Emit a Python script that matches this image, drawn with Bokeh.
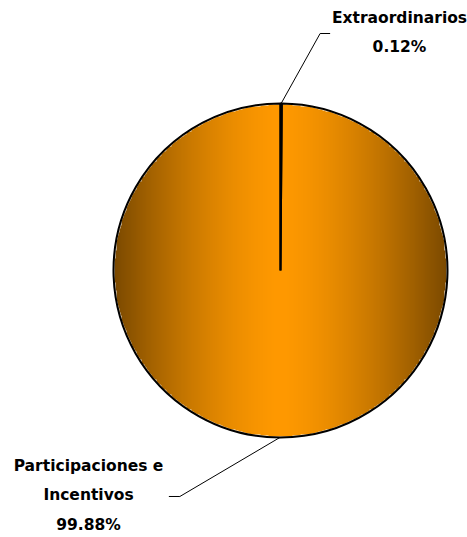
import numpy as np
from bokeh.plotting import figure
from bokeh.models import Range1d, ColumnDataSource
from bokeh.core.properties import value
from bokeh.embed import file_html
from bokeh.resources import INLINE

# ---- data ----
categories = ["Extraordinarios", "Participaciones e Incentivos"]
percentages = [0.12, 99.88]
label_lines = [["Extraordinarios"], ["Participaciones e", "Incentivos"]]

# ---- layout (picture pixel coordinates, y measured upward from bottom) ----
W, H = 467, 537
cx, cy, R = 280.0, H - 270.0, 167.0

p = figure(width=W, height=H, output_backend="svg", toolbar_location=None,
           x_range=Range1d(0, W), y_range=Range1d(0, H),
           min_border=0, outline_line_color=None)
p.axis.visible = False
p.grid.visible = False
p.background_fill_color = "white"
p.border_fill_color = "white"

# ---- gradient shading (style only) ----
n = 400
xs = np.linspace(-1, 1, n)
X, Y = np.meshgrid(xs, xs)
t = np.abs(X)
f = 1 - 0.52 * t ** 1.5
img = np.zeros((n, n, 4), dtype=np.uint8)
img[..., 0] = np.clip(255 * f, 0, 255).astype(np.uint8)
img[..., 1] = np.clip(153 * f, 0, 255).astype(np.uint8)
img[..., 2] = 0
img[..., 3] = np.where(X ** 2 + Y ** 2 <= 0.995, 255, 0).astype(np.uint8)
rgba = img.view(dtype=np.uint32).reshape((n, n))
p.image_rgba(image=[rgba], x=cx - R, y=cy - R, dw=2 * R, dh=2 * R)

# ---- wedges from data ----
fr = np.array(percentages) / sum(percentages)
ang = 2 * np.pi * fr
ends = np.cumsum(ang)
starts = ends - ang
start_angle = np.pi / 2 - starts
end_angle = np.pi / 2 - ends
src = ColumnDataSource(dict(start=start_angle, end=end_angle, cat=categories))
p.wedge(x=cx, y=cy, radius=R, start_angle="start", end_angle="end",
        direction="clock", source=src, fill_alpha=0,
        line_color="black", line_width=2)

# ---- leader lines & labels ----
mid = np.pi / 2 - (starts + ends) / 2
# elbow offsets (style) relative to arc point
elbows = [((39, 70), (10, 0)), ((-100, -59), (-11, 0))]
label_anchor = [(399, H - 17), (88, H - 465)]
line_gap = 29.5

font = value("DejaVu Sans")
for i in range(len(categories)):
    sx = cx + R * np.cos(mid[i])
    sy = cy + R * np.sin(mid[i])
    (dx1, dy1), (dx2, dy2) = elbows[i]
    ex, ey = sx + dx1, sy + dy1
    p.line([sx, ex, ex + dx2], [sy, ey, ey + dy2], line_color="black", line_width=1)
    ax, ay = label_anchor[i]
    lines = label_lines[i] + ["%.2f%%" % percentages[i]]
    ys = [ay - k * line_gap for k in range(len(lines))]
    p.text(x=[ax] * len(lines), y=ys, text=lines, text_align="center",
           text_baseline="middle", text_font=font, text_font_style="bold",
           text_font_size="15.5px", text_color="black")

open("out.html", "w").write(file_html(p, INLINE))
